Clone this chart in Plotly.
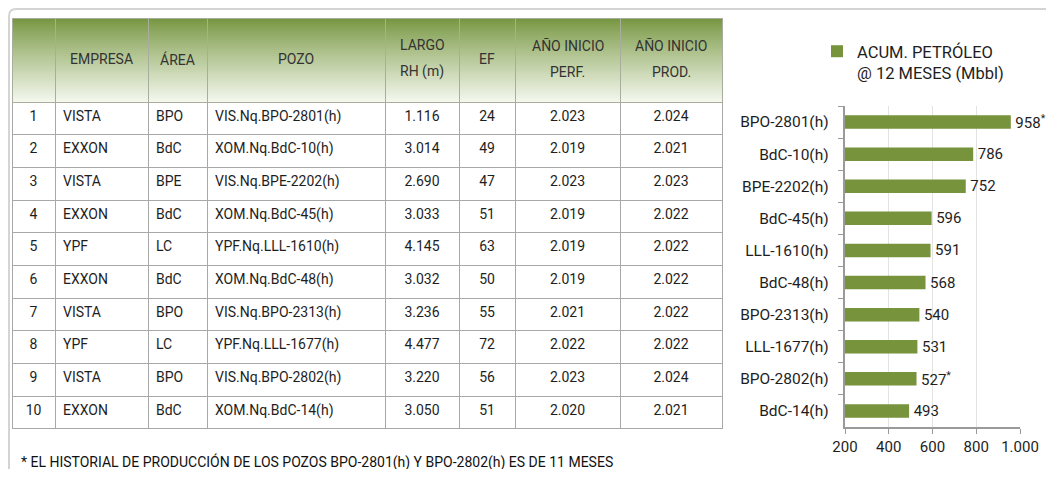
import plotly.graph_objects as go

# page body has an 8px margin: the figure is placed at (8, 8) of the 1054x477 window
OFF = 8
W, H = 1054 - 2 * OFF, 477 - 2 * OFF

# ---------------- data ----------------
rank = [1, 2, 3, 4, 5, 6, 7, 8, 9, 10]
empresa = ["VISTA", "EXXON", "VISTA", "EXXON", "YPF", "EXXON", "VISTA", "YPF", "VISTA", "EXXON"]
area = ["BPO", "BdC", "BPE", "BdC", "LC", "BdC", "BPO", "LC", "BPO", "BdC"]
pozo = ["VIS.Nq.BPO-2801(h)", "XOM.Nq.BdC-10(h)", "VIS.Nq.BPE-2202(h)", "XOM.Nq.BdC-45(h)",
        "YPF.Nq.LLL-1610(h)", "XOM.Nq.BdC-48(h)", "VIS.Nq.BPO-2313(h)", "YPF.Nq.LLL-1677(h)",
        "VIS.Nq.BPO-2802(h)", "XOM.Nq.BdC-14(h)"]
largo = ["1.116", "3.014", "2.690", "3.033", "4.145", "3.032", "3.236", "4.477", "3.220", "3.050"]
ef = [24, 49, 47, 51, 63, 50, 55, 72, 56, 51]
anio_perf = ["2.023", "2.019", "2.023", "2.019", "2.019", "2.019", "2.021", "2.022", "2.023", "2.020"]
anio_prod = ["2.024", "2.021", "2.023", "2.022", "2.022", "2.022", "2.022", "2.022", "2.024", "2.021"]

header_line1 = ["", "EMPRESA", "ÁREA", "POZO", "LARGO", "EF", "AÑO INICIO", "AÑO INICIO"]
header_line2 = ["", "", "", "", "RH (m)", "", "PERF.", "PROD."]

well_labels = ["BPO-2801(h)", "BdC-10(h)", "BPE-2202(h)", "BdC-45(h)", "LLL-1610(h)",
               "BdC-48(h)", "BPO-2313(h)", "LLL-1677(h)", "BPO-2802(h)", "BdC-14(h)"]
acum = [958, 786, 752, 596, 591, 568, 540, 531, 527, 493]
note_mark = ["<sup>*</sup>", "", "", "", "", "", "", "", "<sup>*</sup>", ""]
xticks = [200, 400, 600, 800, 1000]
xtick_text = ["200", "400", "600", "800", "1.000"]

series_name = "ACUM. PETRÓLEO<br>@ 12 MESES (Mbbl)"
footnote = "* EL HISTORIAL DE PRODUCCIÓN DE LOS POZOS BPO-2801(h) Y BPO-2802(h) ES DE 11 MESES"

# ---------------- styles ----------------
FONT = "Roboto, 'Liberation Sans', sans-serif"
GREEN = "#77933c"
TXT = "#1e1e1e"

def px(x):  # window pixel -> paper fraction
    return (x - OFF) / W

def py(y):
    return 1 - (y - OFF) / H

tbl_left, tbl_right, tbl_top, tbl_bottom = 12, 722, 18, 429
hdr_h = 84
cell_h = (tbl_bottom - tbl_top - hdr_h) / 10
col_w = [43, 93, 59, 178, 74, 56, 105, 102]

fig = go.Figure()

fig.add_trace(go.Table(
    domain=dict(x=[px(tbl_left), px(tbl_right)], y=[py(tbl_bottom), py(tbl_top)]),
    columnwidth=col_w,
    header=dict(
        values=[""] * len(col_w),
        fill_color="rgba(0,0,0,0)",
        line_color="#a8ad9e",
        line_width=1,
        align="center",
        height=hdr_h,
        font=dict(family=FONT, size=14, color="#3a3a3a"),
    ),
    cells=dict(
        values=[rank, empresa, area, pozo, largo, ef, anio_perf, anio_prod],
        fill_color="white",
        line_color="#a8a8a8",
        line_width=1,
        align=["center", "left", "left", "left", "center", "center", "center", "center"],
        height=cell_h,
        font=dict(family=FONT, size=14, color=TXT),
    ),
))

fig.add_trace(go.Bar(
    x=acum,
    y=well_labels,
    orientation="h",
    name=series_name,
    marker=dict(color=GREEN, line=dict(width=0)),
    width=0.42,
    text=["\u200a" + str(v) + m for v, m in zip(acum, note_mark)],
    textposition="outside",
    constraintext="none",
    cliponaxis=False,
    textfont=dict(family=FONT, size=15, color=TXT),
    showlegend=True,
))

# header gradient (dark olive at top -> pale at bottom)
shapes = []
n = 42
top_rgb = (118, 150, 64)
bot_rgb = (243, 247, 236)
for i in range(n):
    t = i / (n - 1)
    c = tuple(round(top_rgb[k] + (bot_rgb[k] - top_rgb[k]) * (t ** 0.9)) for k in range(3))
    y0 = tbl_top + hdr_h * i / n
    y1 = tbl_top + hdr_h * (i + 1) / n + 0.6
    shapes.append(dict(type="rect", xref="paper", yref="paper",
                       x0=px(tbl_left), x1=px(tbl_right), y0=py(y1), y1=py(y0),
                       fillcolor="rgb(%d,%d,%d)" % c, line=dict(width=0), layer="below"))
# outer frame (top and left edges, rounded corner)
shapes.append(dict(type="path", xref="paper", yref="paper",
                   path="M %f,%f L %f,%f Q %f,%f %f,%f L %f,%f" % (
                       px(9), 0.0, px(9), py(16), px(9), py(9), px(16), py(9), 1.0, py(9)),
                   line=dict(color="#d4d4d4", width=2)))

# header text annotations
annotations = []
edges = [tbl_left]
for w in col_w:
    edges.append(edges[-1] + w)
for i, (l1, l2) in enumerate(zip(header_line1, header_line2)):
    cx = (edges[i] + edges[i + 1]) / 2
    rows = [(l1, 45), (l2, 72)] if l2 else [(l1, 59)]
    for txt, yy in rows:
        if not txt:
            continue
        annotations.append(dict(text=txt, xref="paper", yref="paper", x=px(cx), y=py(yy),
                                xanchor="center", yanchor="middle", showarrow=False,
                                font=dict(family=FONT, size=14, color="#333333")))
annotations.append(dict(
    text=footnote, xref="paper", yref="paper",
    x=px(19), y=py(462), xanchor="left", yanchor="middle",
    showarrow=False, font=dict(family=FONT, size=14, color="#111111"),
))

fig.update_layout(
    width=W, height=H, autosize=False,
    margin=dict(l=0, r=0, t=0, b=0, pad=0, autoexpand=False),
    paper_bgcolor="white", plot_bgcolor="white",
    font=dict(family=FONT, color=TXT),
    shapes=shapes,
    annotations=annotations,
    xaxis=dict(
        domain=[px(845), px(1020)],
        range=[200, 1000],
        tickvals=xticks, ticktext=xtick_text,
        showgrid=True, gridcolor="#e3e3e3", gridwidth=1,
        showline=True, linecolor="#9a9a9a", linewidth=1.5,
        ticks="outside", ticklen=5, tickcolor="#9a9a9a",
        tickfont=dict(family=FONT, size=15, color=TXT),
        zeroline=False, fixedrange=True, automargin=False,
    ),
    yaxis=dict(
        domain=[py(427), py(106)],
        autorange="reversed",
        showline=True, linecolor="#9a9a9a", linewidth=1.5,
        ticks="outside", ticklen=5, tickcolor="#9a9a9a",
        tickson="boundaries",
        tickfont=dict(family=FONT, size=15.5, color=TXT),
        ticksuffix="   ",
        showgrid=False, fixedrange=True, automargin=False,
    ),
    legend=dict(
        x=px(817), y=py(34), xanchor="left", yanchor="top",
        font=dict(family=FONT, size=16.5, color=TXT),
        bgcolor="rgba(0,0,0,0)",
        valign="top",
    ),
)

fig.write_html("out.html")
